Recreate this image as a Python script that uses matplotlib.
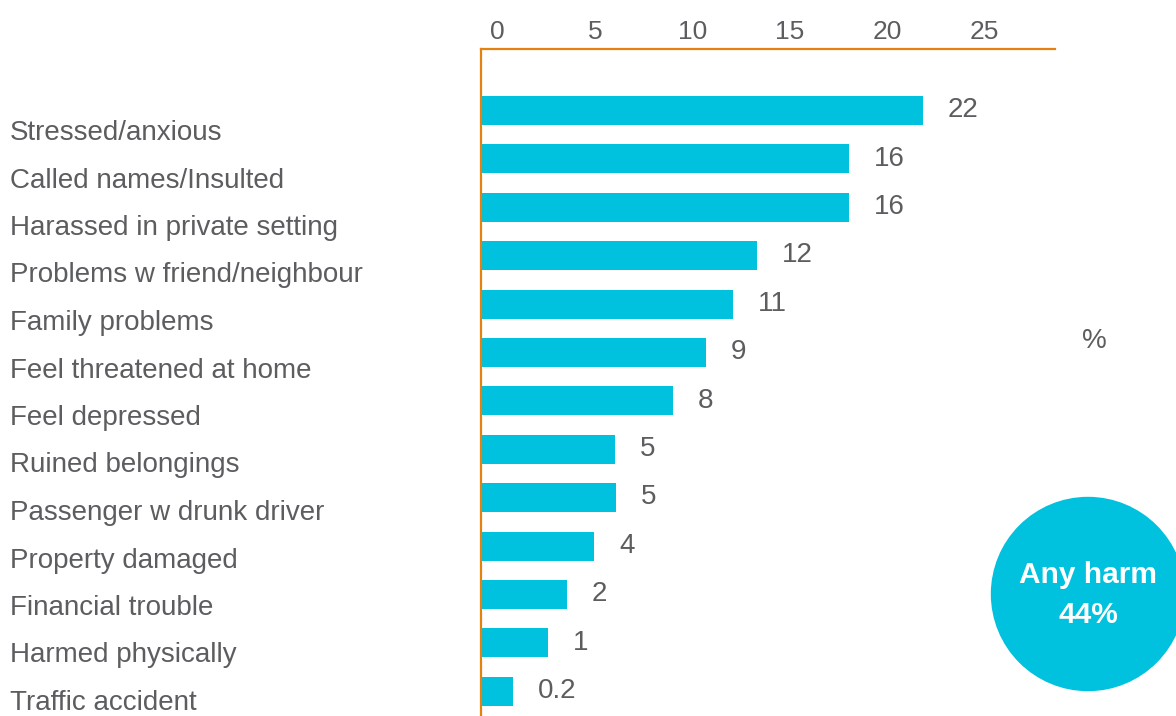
import matplotlib
matplotlib.use('Agg')
import matplotlib.pyplot as plt
from matplotlib.patches import Ellipse

plt.rcParams['font.family'] = ['Liberation Sans', 'DejaVu Sans']

categories = ['Stressed/anxious', 'Called names/Insulted', 'Harassed in private setting',
              'Problems w friend/neighbour', 'Family problems', 'Feel threatened at home',
              'Feel depressed', 'Ruined belongings', 'Passenger w drunk driver',
              'Property damaged', 'Financial trouble', 'Harmed physically', 'Traffic accident']
# bar ends as drawn in the picture (axis units), labels as printed
bar_ends = [21.84, 18.04, 18.04, 13.32, 12.09, 10.70, 9.01, 6.03, 6.08, 4.95, 3.57, 2.59, 0.80]
value_labels = ['22', '16', '16', '12', '11', '9', '8', '5', '5', '4', '2', '1', '0.2']
ticks = [0, 5, 10, 15, 20, 25]
axis_start = -0.85
axis_end = 28.62

cyan = '#00C1DE'
orange = '#E5820F'
grey = '#5C5D60'

W, H = 1176, 716
fig = plt.figure(figsize=(W / 100, H / 100), dpi=100)
ax = fig.add_axes([481 / W, 0, (1055 - 481) / W, (H - 49) / H])

y = list(range(len(categories)))
ax.barh(y, [e - axis_start for e in bar_ends], left=axis_start, height=0.6, color=cyan)
ax.set_xlim(axis_start, axis_end)
ax.set_ylim(12.51, -1.27)

for s in ['right', 'bottom']:
    ax.spines[s].set_visible(False)
for s in ['left', 'top']:
    ax.spines[s].set_color(orange)
    ax.spines[s].set_linewidth(1.6)

ax.xaxis.tick_top()
ax.set_xticks(ticks)
ax.set_xticklabels([str(t) for t in ticks])
ax.tick_params(axis='x', length=0, pad=3.5, labelsize=19, labelcolor=grey)
ax.set_yticks([])

# category labels are a separate text block, slightly tighter than the bars
for i, c in enumerate(categories):
    fig.text(10 / W, 1 - (140 + 47.5 * i) / H, c, ha='left', va='baseline',
             fontsize=20, color=grey)

for i, (e, lab) in enumerate(zip(bar_ends, value_labels)):
    ax.annotate(lab, xy=(e, i), xytext=(18, -4.8), textcoords='offset points',
                ha='left', va='baseline', fontsize=20, color=grey, annotation_clip=False)

fig.text(1094 / W, 1 - 348 / H, '%', ha='center', va='baseline', fontsize=20, color=grey)

circle = Ellipse((1088 / W, 1 - 594 / H), 193 / W, 193 / H, transform=fig.transFigure,
                 color=cyan, zorder=5)
fig.add_artist(circle)
fig.text(1088 / W, 1 - 583 / H, 'Any harm', ha='center', va='baseline', fontsize=21.5,
         fontweight='bold', color='white', zorder=6)
fig.text(1088 / W, 1 - 623 / H, '44%', ha='center', va='baseline', fontsize=21.5,
         fontweight='bold', color='white', zorder=6)

fig.savefig('out.png', dpi=100)
